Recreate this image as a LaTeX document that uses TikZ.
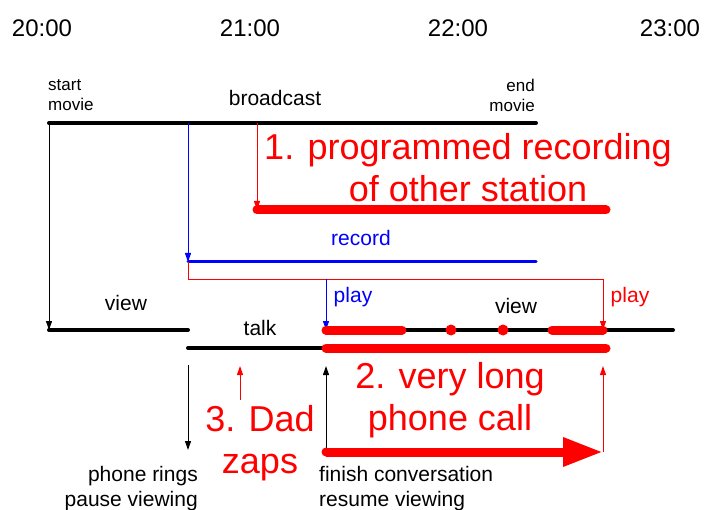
\documentclass[tikz,border=0pt]{standalone}
\usepackage{fontspec}
\setmainfont{Liberation Sans}
\usetikzlibrary{arrows.meta}
\begin{document}
\begin{tikzpicture}[x=1pt,y=-1pt,inner sep=0pt,
    tarrow/.style={-{Triangle[length=9pt,width=6pt]}, line width=1pt},
    bar/.style={line width=4pt, line cap=round},
    fatbar/.style={line width=9pt, line cap=round, red},
    small/.style={font=\fontsize{17}{20}\selectfont},
    mid/.style={font=\fontsize{21}{25}\selectfont},
    big/.style={font=\fontsize{36}{42}\selectfont, text=red, align=center}]
    \useasboundingbox (0,0) rectangle (711,510);
    % hours
    \foreach \h/\x in {20/42,21/250,22/458,23/670}{
        \node[font=\fontsize{24}{28}\selectfont] (t\h) at (\x,28) {\h:00};
    }
    % time points
    \coordinate (bcA) at (49,123);
    \coordinate (bcB) at (536,123);
    \coordinate (prgA) at (257,210);
    \coordinate (prgB) at (606,210);
    \coordinate (recA) at (188,262);
    \coordinate (recB) at (536,262);
    \coordinate (loop) at (188,279);
    \coordinate (viewA) at (49,330);
    \coordinate (viewB) at (188,330);
    \coordinate (viewC) at (326,330);
    \coordinate (viewD) at (673,330);
    \coordinate (playR) at (603,330);
    \coordinate (talkA) at (188,348);
    \coordinate (talkB) at (326,348);
    \coordinate (talkC) at (606,348);
    \coordinate (ringA) at (188,365);
    \coordinate (ringB) at (188,450);
    \coordinate (zapA) at (240,400);
    \coordinate (zapB) at (240,366);
    \coordinate (finA) at (326,452);
    \coordinate (finB) at (603,452);
    % lines
    \draw[bar] (bcA) -- (bcB);
    \draw[tarrow] (bcA) -- (viewA);
    \draw[tarrow, blue] (recA |- bcA) -- (recA);
    \draw[tarrow, red] (prgA |- bcA) -- (prgA);
    \draw[fatbar] (prgA) -- (prgB);
    \draw[blue, line width=3pt, line cap=round] (recA) -- (recB);
    \draw[tarrow, red] (recA) -- (loop) -| (playR);
    \draw[tarrow, blue] (viewC |- loop) -- (viewC);
    \draw[bar] (viewA) -- (viewB);
    \draw[bar] (viewC) -- (viewD);
    \draw[fatbar] (viewC) -- (402,330);
    \draw[fatbar] (552,330) -- (playR);
    \fill[red] (451,330) circle (5.5pt) (503,330) circle (5.5pt);
    \draw[bar] (talkA) -- (talkB);
    \draw[fatbar] (talkB) -- (talkC);
    \draw[tarrow] (ringA) -- (ringB);
    \draw[tarrow, red] (zapA) -- (zapB);
    \draw[tarrow] (finA) -- (talkB |- zapB);
    \draw[tarrow, red] (finB) -- (finB |- zapB);
    \draw[red, line width=9pt, -{Triangle[length=40pt,width=27pt]}] (finA) -- (finB);
    \fill[red] (finA) circle (4.5pt);
    % labels
    \node[small, align=left, anchor=west] (stmv) at (48,95) {start\\movie};
    \node[small, align=right, anchor=east] (endmv) at (535,95) {end\\movie};
    \node[mid] (bcl) at (275,98) {broadcast};
    \node[big] (prog) at (468,168) {1. programmed recording\\of other station};
    \node[mid, text=blue] (recl) at (361,238) {record};
    \node[mid, text=blue] (playb) at (353,297) {play};
    \node[mid, text=red] (playr) at (630,297) {play};
    \node[mid] (viewl) at (126,303) {view};
    \node[mid] (viewr) at (516,306) {view};
    \node[mid] (talk) at (260,328) {talk};
    \node[big] (call) at (450,400) {2. very long\\phone call};
    \node[big] (dad) at (260,443) {3. Dad\\zaps};
    \node[mid, align=right, anchor=east] (ring) at (198,489) {phone rings\\pause viewing};
    \node[mid, align=left, anchor=west] (fin) at (319,489) {finish conversation\\resume viewing};
\end{tikzpicture}
\end{document}
